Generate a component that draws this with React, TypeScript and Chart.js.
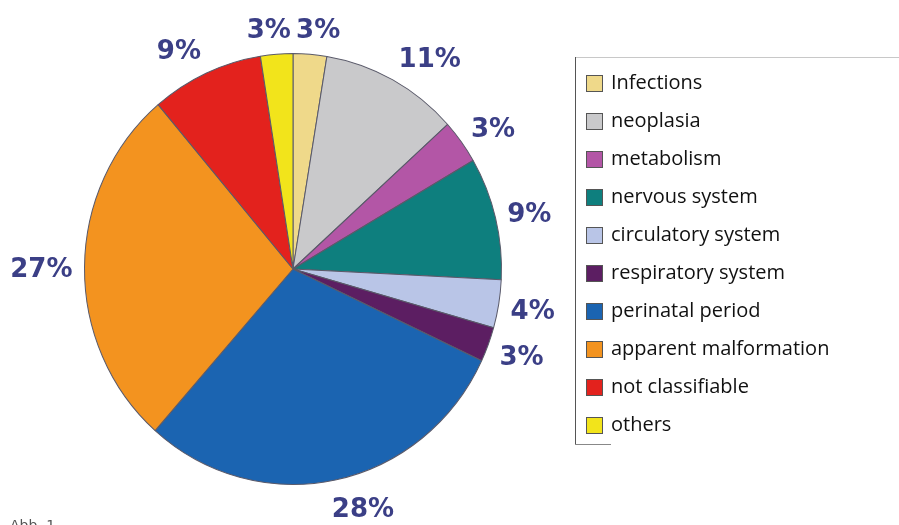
import React, { useEffect, useRef } from "react";
import { Chart, registerables } from "chart.js";

Chart.register(...registerables);

const categories = [
  "Infections",
  "neoplasia",
  "metabolism",
  "nervous system",
  "circulatory system",
  "respiratory system",
  "perinatal period",
  "apparent malformation",
  "not classifiable",
  "others",
];
const shares = [2.6, 10.7, 3.3, 9.2, 3.6, 2.6, 29.5, 27.3, 8.7, 2.5];
const shareLabels = ["3%", "11%", "3%", "9%", "4%", "3%", "28%", "27%", "9%", "3%"];
const colors = [
  "#EFD98A",
  "#C9C9CB",
  "#B356A6",
  "#0E7F7E",
  "#B9C5E7",
  "#5C1E62",
  "#1B64B1",
  "#F3931F",
  "#E3221D",
  "#F2E41B",
];

const Y_STRETCH = 216 / 209;

const pieDecor = {
  id: "pieDecor",
  beforeDatasetsDraw(chart: any) {
    const ctx = chart.ctx;
    const arc = chart.getDatasetMeta(0).data[0];
    ctx.save();
    ctx.translate(arc.x, arc.y);
    ctx.scale(1, Y_STRETCH);
    ctx.translate(-arc.x, -arc.y);
  },
  afterDatasetsDraw(chart: any) {
    const ctx = chart.ctx;
    ctx.restore();
    const meta = chart.getDatasetMeta(0);
    ctx.save();
    ctx.font = "bold 26px 'DejaVu Sans'";
    ctx.fillStyle = "#3B3F86";
    ctx.textAlign = "center";
    ctx.textBaseline = "middle";
    const gap = 12;
    const halfH = 15;
    meta.data.forEach((a: any, i: number) => {
      const mid = (a.startAngle + a.endAngle) / 2;
      const cx = Math.cos(mid);
      const sy = Math.sin(mid);
      const rx = a.outerRadius;
      const ry = a.outerRadius * Y_STRETCH;
      const w = ctx.measureText(shareLabels[i]).width;
      const fx = Math.max(-1, Math.min(1, cx * 4));
      const x = a.x + rx * cx + gap * cx + (fx * w) / 2;
      const y = a.y + ry * sy + sy * (gap + halfH) + 4;
      ctx.fillText(shareLabels[i], x, y);
    });
    ctx.restore();
  },
};

const boxLegend = {
  id: "boxLegend",
  afterDraw(chart: any) {
    const ctx = chart.ctx;
    const left = 575;
    const top = 57;
    const bottom = 444;
    ctx.save();
    ctx.lineWidth = 1;
    ctx.strokeStyle = "#C8C8C8";
    ctx.beginPath();
    ctx.moveTo(left, top + 0.5);
    ctx.lineTo(899, top + 0.5);
    ctx.stroke();
    ctx.strokeStyle = "#555555";
    ctx.beginPath();
    ctx.moveTo(left + 0.5, top);
    ctx.lineTo(left + 0.5, bottom);
    ctx.stroke();
    ctx.strokeStyle = "#888888";
    ctx.beginPath();
    ctx.moveTo(left, bottom + 0.5);
    ctx.lineTo(611, bottom + 0.5);
    ctx.stroke();

    const labels = chart.data.labels as string[];
    const bg = chart.data.datasets[0].backgroundColor as string[];
    ctx.font = "20px 'Open Sans'";
    ctx.textBaseline = "middle";
    ctx.textAlign = "left";
    labels.forEach((lab, i) => {
      const cy = 83 + i * 38;
      ctx.fillStyle = bg[i];
      ctx.fillRect(586, cy - 8, 17, 17);
      ctx.strokeStyle = "#555555";
      ctx.strokeRect(586.5, cy - 7.5, 16, 16);
      ctx.fillStyle = "#111111";
      ctx.fillText(lab, 611, cy);
    });

    ctx.font = "14px 'DejaVu Sans'";
    ctx.fillStyle = "#555555";
    ctx.textBaseline = "alphabetic";
    ctx.fillText("Abb. 1", 10, 530);
    ctx.restore();
  },
};

export default function App() {
  const ref = useRef<HTMLCanvasElement>(null);
  useEffect(() => {
    document.body.style.margin = "0";
    const chart = new Chart(ref.current as HTMLCanvasElement, {
      type: "pie",
      data: {
        labels: categories,
        datasets: [
          {
            data: shares,
            backgroundColor: colors,
            borderColor: "#5A5A6A",
            borderWidth: 1,
          },
        ],
      },
      options: {
        responsive: false,
        animation: false,
        layout: { padding: { left: 84, right: 397, top: 60, bottom: 47 } },
        plugins: {
          legend: { display: false },
          tooltip: { enabled: false },
        },
      },
      plugins: [pieDecor, boxLegend],
    });
    return () => chart.destroy();
  }, []);
  return (
    <div style={{ width: 899, height: 525, background: "#fff" }}>
      <canvas ref={ref} width={899} height={525} />
    </div>
  );
}
